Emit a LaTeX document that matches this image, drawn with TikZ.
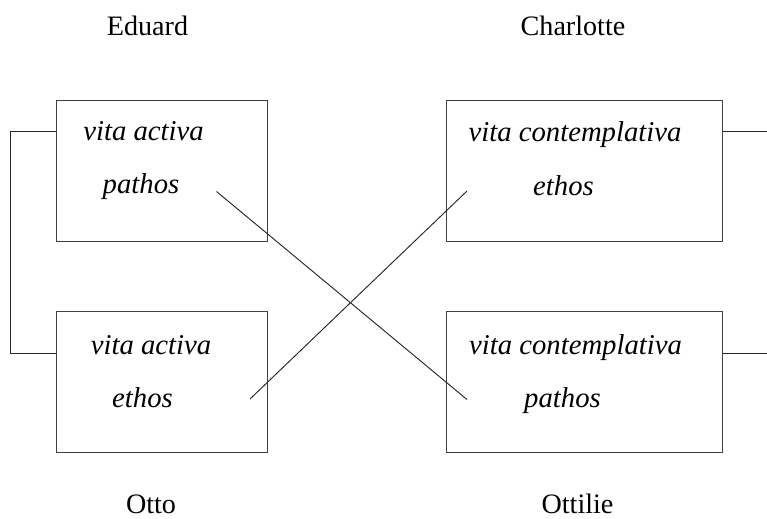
\documentclass[tikz,border=0pt]{standalone}
\usepackage{fontspec}
\setmainfont{Liberation Serif}
\begin{document}
\begin{tikzpicture}[
        x=0.03cm, y=-0.03cm,
        figur/.style = {rectangle, draw=black!75, line width=0.85pt, inner sep=0pt, minimum height=4.23cm},
        narrow/.style = {figur, minimum width=6.3cm},
        wide/.style = {figur, minimum width=8.28cm},
        person/.style = {anchor=base, inner sep=0pt, font=\fontsize{24}{29}\selectfont},
        word/.style = {anchor=base, inner sep=0pt, font=\fontsize{24.5}{29}\selectfont\itshape},
        link/.style = {draw=black!85, line width=0.8pt}
    ]
    \useasboundingbox (0,0) rectangle (767,518);

    % ================= NAMEN =================
    \node[person] (eduard) at (147.5, 35) {Eduard};
    \node[person] (charlotte) at (573, 35) {Charlotte};
    \node[person] (otto) at (151, 513) {Otto};
    \node[person] (ottilie) at (577.5, 513) {Ottilie};

    % ================= KÄSTEN =================
    \node[narrow] (eduardbox) at (162, 171) {};
    \node[wide] (charlottebox) at (584, 171) {};
    \node[narrow] (ottobox) at (162, 382) {};
    \node[wide] (ottiliebox) at (584, 382) {};
    %
    \node[word] (ed1) at (143.5, 140) {vita activa};
    \node[word] (ed2) at (141, 193) {pathos};
    \node[word] (ch1) at (575, 141) {vita contemplativa};
    \node[word] (ch2) at (563.5, 195) {ethos};
    \node[word] (ot1) at (151, 354) {vita activa};
    \node[word] (ot2) at (142.5, 407) {ethos};
    \node[word] (oi1) at (575.5, 354) {vita contemplativa};
    \node[word] (oi2) at (562.5, 407) {pathos};

    % Verbindungen
    \coordinate (edpath) at (216.5, 191.5);
    \coordinate (oipath) at (467, 399.5);
    \coordinate (chethos) at (467, 191);
    \coordinate (otethos) at (250, 399);
    \draw[link] (edpath) -- (oipath);
    \draw[link] (chethos) -- (otethos);
    %
    \coordinate (leftbar) at (10.5, 0);
    \draw[link] (eduardbox.west |- 0,131.5) -| (leftbar |- 0,131.5) |- (ottobox.west |- 0,353);
    \coordinate (rightend) at (767, 0);
    \draw[link] (charlottebox.east |- 0,131.5) -- (rightend |- 0,131.5);
    \draw[link] (ottiliebox.east |- 0,353) -- (rightend |- 0,353);

\end{tikzpicture}
\end{document}
